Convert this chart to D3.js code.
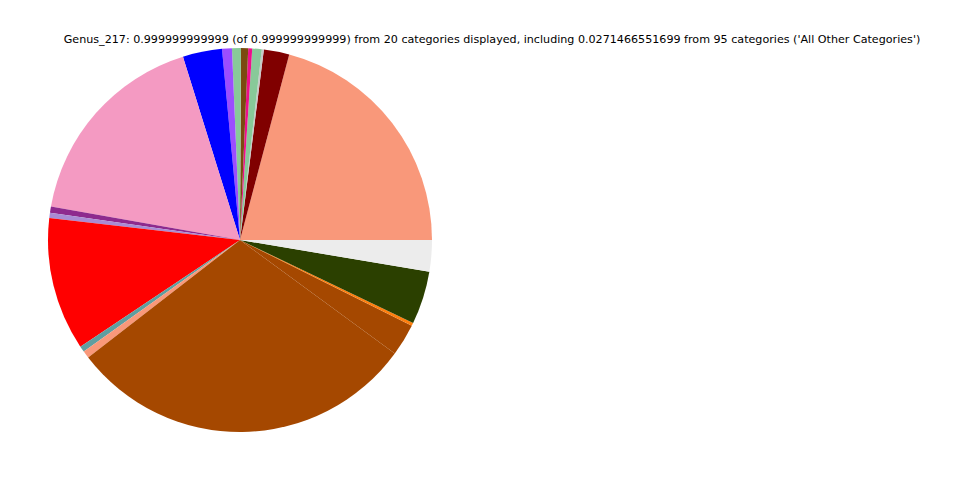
<!DOCTYPE html>
<html>
<head>
<meta charset="utf-8">
<script src="https://cdn.jsdelivr.net/npm/d3@7"></script>
<style>
  html, body { margin: 0; padding: 0; background: #ffffff; }
  svg { display: block; }
</style>
</head>
<body>
<svg id="chart" width="960" height="480"></svg>
<script>
const titleText = "Genus_217: 0.999999999999 (of 0.999999999999) from 20 categories displayed, including 0.0271466551699 from 95 categories ('All Other Categories')";

const categories = [
  "Genus A", "Genus B", "Genus C", "Genus D", "Genus E",
  "Genus F", "Genus G", "Genus H", "Genus I", "Genus J",
  "Genus K", "Genus L", "Genus M", "Genus N", "Genus O",
  "Genus P", "All Other Categories", "Genus Q", "Genus R", "Genus S"
];
const values = [
  0.2086, 0.0214, 0.0017, 0.0080, 0.0033,
  0.0060, 0.0075, 0.0083, 0.0330, 0.1739,
  0.0053, 0.0044, 0.1119, 0.0050, 0.0061,
  0.2942, 0.0271, 0.0025, 0.0447, 0.0264
];
const colors = [
  "#f9987a", "#800000", "#c8c8c8", "#88c999", "#ee0f8c",
  "#7a4a10", "#88c999", "#9b4dff", "#0000ff", "#f49ac2",
  "#8e2a8e", "#a98bd4", "#ff0000", "#5f9ea0", "#f9987a",
  "#a54800", "#a54800", "#ff7f0e", "#2b4000", "#ececec"
];

const svg = d3.select("#chart");
const cx = 240, cy = 240, radius = 192;

const data = categories.map((c, i) => ({ name: c, value: values[i], color: colors[i] }));

// matplotlib style: start at 3 o'clock, counter-clockwise
const pie = d3.pie()
  .sort(null)
  .value(d => d.value)
  .startAngle(Math.PI / 2)
  .endAngle(Math.PI / 2 - 2 * Math.PI);

const arc = d3.arc().innerRadius(0).outerRadius(radius);

const g = svg.append("g").attr("transform", `translate(${cx},${cy})`);
g.selectAll("path")
  .data(pie(data))
  .join("path")
  .attr("d", arc)
  .attr("fill", d => d.data.color);

const title = svg.append("text")
  .attr("x", 492)
  .attr("y", 43)
  .attr("text-anchor", "middle")
  .attr("font-family", "DejaVu Sans, sans-serif")
  .attr("font-size", 11)
  .attr("fill", "#000")
  .text(titleText);

// fit title width to reference span (~858px)
const w = title.node().getComputedTextLength();
if (w > 0) {
  title.attr("font-size", 11 * 858 / w);
}
</script>
</body>
</html>
